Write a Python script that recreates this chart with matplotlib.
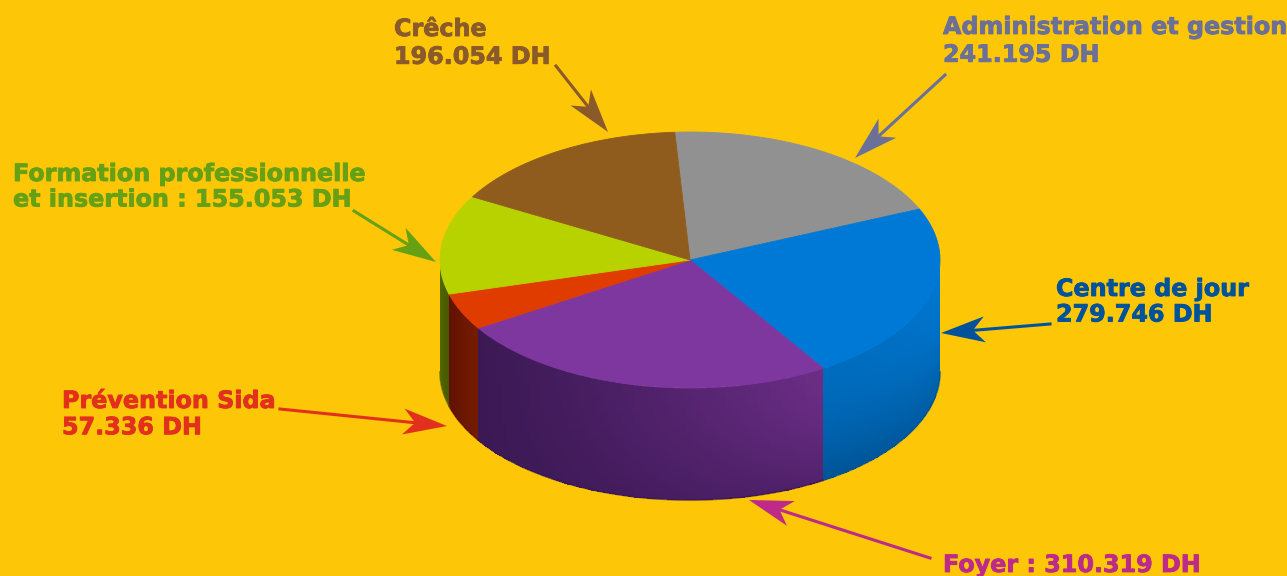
import matplotlib
matplotlib.use('Agg')
import matplotlib.pyplot as plt
import matplotlib.patheffects as pe
import numpy as np
from matplotlib.patches import Polygon

labels = ['Administration et gestion\n241.195 DH', 'Centre de jour\n279.746 DH', 'Foyer : 310.319 DH',
          'Prévention Sida\n57.336 DH', 'Formation professionnelle\net insertion : 155.053 DH', 'Crêche\n196.054 DH']
values = [241195, 279746, 310319, 57336, 155053, 196054]

bg = '#fdc607'
topColors = ['#919191', '#0079d6', '#7f37a0', '#e03c00', '#b8d200', '#905c1e']
textColors = ['#6a7098', '#00539b', '#bd2a8a', '#e2301c', '#66a015', '#8a5a2b']
# side shading: top left, top right, bottom left, bottom right
sideColors = [None,
              [(0, 108, 190), (0, 122, 214), (0, 84, 150), (0, 98, 172)],
              [(60, 25, 85), (108, 46, 135), (60, 25, 85), (82, 34, 108)],
              [(98, 18, 0), (118, 28, 0), (98, 18, 0), (118, 28, 0)],
              [(84, 104, 0), (70, 90, 0), (84, 104, 0), (70, 90, 0)],
              None]

textPos = [(943, 15), (1056, 277), (943, 553), (62, 389), (13, 162), (394, 17)]
lineSpace = [1.2, 1.08, 1.0, 1.12, 1.08, 1.2]
arrowStart = [(945, 75), (1050, 324), (930, 558), (280, 409), (354, 211), (556, 66)]
arrowTip = [(855, 158), (941, 333), (749, 500), (447, 426), (436, 262), (608, 132)]

cx, cy, rx, ry = 690, 260, 250, 128
depth = 112
startAngle = 93.5

fig = plt.figure(figsize=(12.87, 5.76), dpi=100, facecolor=bg)
ax = fig.add_axes([0, 0, 1, 1])
ax.set_xlim(0, 1287)
ax.set_ylim(576, 0)
ax.axis('off')

def ex(a):
    return cx + rx * np.cos(np.radians(a))

def ey(a):
    return cy - ry * np.sin(np.radians(a))

def drawSide(a1, a2, cols):
    # a1 is the left end on screen (smaller angle), a2 the right end
    t = np.linspace(a1, a2, 61)
    v = np.linspace(0, 1, 41)
    T, V = np.meshgrid(t, v)
    X = ex(T)
    Y = ey(T) + V * depth
    tm = (np.arange(60) + 0.5) / 60
    vm = (np.arange(40) + 0.5) / 40
    TM, VM = np.meshgrid(tm ** 1.4, vm ** 1.6)
    tl, tr, bl, br = [np.array(c) / 255 for c in cols]
    C = np.zeros((40, 60, 3))
    for i in range(3):
        C[:, :, i] = (1 - VM) * ((1 - TM) * tl[i] + TM * tr[i]) + VM * ((1 - TM) * bl[i] + TM * br[i])
    ax.pcolormesh(X, Y, C, shading='flat', antialiased=False, zorder=2)
    ax.plot(ex(t), ey(t) + depth, color=np.array(cols[2]) / 255, lw=1.2, alpha=0.7, zorder=3)

angle = startAngle
total = sum(values)
for i, val in enumerate(values):
    sweep = val / total * 360
    a = np.linspace(angle, angle - sweep, 80)
    pts = [(cx, cy)] + list(zip(ex(a), ey(a)))
    ax.add_patch(Polygon(pts, closed=True, fc=topColors[i], ec=topColors[i], lw=0.6, zorder=4))
    lo = max(angle - sweep, -180)
    hi = min(angle, 0)
    # angles below -180 wrap round to the back, those are hidden
    if sideColors[i] is not None and lo < hi:
        drawSide(lo, hi, sideColors[i])
    angle -= sweep

for i in range(len(labels)):
    ax.text(textPos[i][0], textPos[i][1], labels[i], color=textColors[i], fontsize=17.15, fontweight='bold',
            family='DejaVu Sans', ha='left', va='top', linespacing=lineSpace[i], zorder=6,
            path_effects=[pe.withStroke(linewidth=0.6, foreground=textColors[i])])
    s = np.array(arrowStart[i], dtype=float)
    e = np.array(arrowTip[i], dtype=float)
    d = (s - e) / np.linalg.norm(s - e)
    p = np.array([-d[1], d[0]])
    ax.plot([s[0], (e + d * 32)[0]], [s[1], (e + d * 32)[1]], color=textColors[i], lw=2.2, zorder=5)
    head = [e, e + d * 44 + p * 13, e + d * 32, e + d * 44 - p * 13]
    ax.add_patch(Polygon(head, closed=True, fc=textColors[i], ec='none', zorder=5))

fig.savefig('out.png', dpi=100, facecolor=bg)
